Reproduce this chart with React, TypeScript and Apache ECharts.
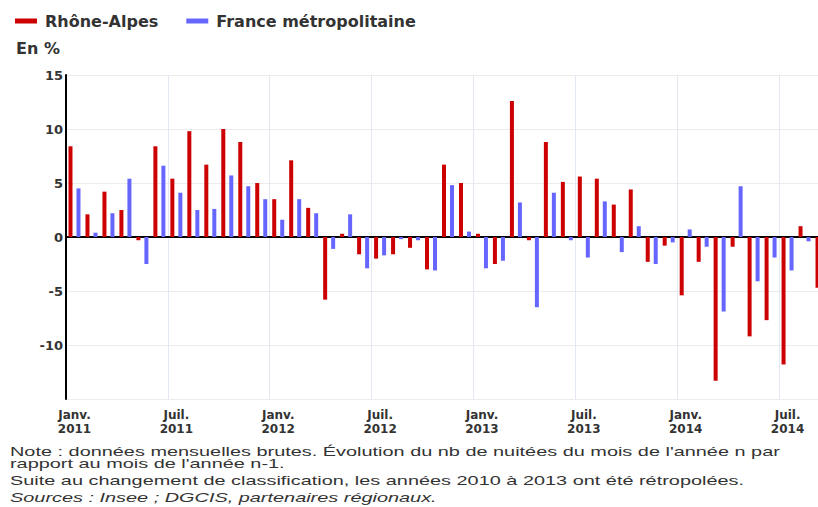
import React, { useEffect, useRef } from "react";
import * as echarts from "echarts";

const monthNames = ["Janv.", "Févr.", "Mars", "Avr.", "Mai", "Juin", "Juil.", "Août", "Sept.", "Oct.", "Nov.", "Déc."];
const years = [2011, 2012, 2013, 2014];
const categories: string[] = [];
years.forEach((y) => monthNames.forEach((m) => categories.push(`${m} ${y}`)));
const months = categories.slice(0, 45);

const rhoneAlpes = [
  8.4, 2.1, 4.2, 2.5, -0.3, 8.4, 5.4, 9.8, 6.7, 10.0, 8.8, 5.0,
  3.5, 7.1, 2.7, -5.8, 0.3, -1.6, -2.0, -1.6, -1.0, -3.0, 6.7, 5.0,
  0.3, -2.5, 12.6, -0.3, 8.8, 5.1, 5.6, 5.4, 3.0, 4.4, -2.3, -0.8,
  -5.4, -2.3, -13.3, -0.9, -9.2, -7.7, -11.8, 1.0, -4.7,
];
const franceMetro = [
  4.5, 0.4, 2.2, 5.4, -2.5, 6.6, 4.1, 2.5, 2.6, 5.7, 4.7, 3.5,
  1.6, 3.5, 2.2, -1.1, 2.1, -2.9, -1.7, -0.2, -0.3, -3.1, 4.8, 0.5,
  -2.9, -2.2, 3.2, -6.5, 4.1, -0.3, -1.9, 3.3, -1.4, 1.0, -2.5, -0.5,
  0.7, -0.9, -6.9, 4.7, -4.1, -1.9, -3.1, -0.4, null,
];

const seriesNames = ["Rhône-Alpes", "France métropolitaine"];
const unitLabel = "En %";
const notes = [
  "Note : données mensuelles brutes. Évolution du nb de nuitées du mois de l'année n par",
  "rapport au mois de l'année n-1.",
  "Suite au changement de classification, les années 2010 à 2013 ont été rétropolées.",
];
const sources = "Sources : Insee ; DGCIS, partenaires régionaux.";

export default function App() {
  const ref = useRef<HTMLDivElement>(null);
  useEffect(() => {
    if (!ref.current) return;
    const chart = echarts.init(ref.current, null, { renderer: "svg" });
    const axisFont = { fontFamily: "DejaVu Sans", fontWeight: "bold" as const, fontSize: 12, color: "#333" };
    chart.setOption({
      animation: false,
      backgroundColor: "#fff",
      title: {
        text: unitLabel,
        left: 11,
        top: 35,
        textStyle: { fontFamily: "DejaVu Sans", fontWeight: "bold", fontSize: 16, color: "#333" },
      },
      legend: {
        left: 10,
        top: 8,
        icon: "rect",
        itemWidth: 22,
        itemHeight: 5,
        itemGap: 28,
        textStyle: { fontFamily: "DejaVu Sans", fontWeight: "bold", fontSize: 16, color: "#333", padding: [0, 0, 0, 3] },
        data: seriesNames,
      },
      grid: {
        left: 66,
        top: 75,
        width: 764,
        height: 324,
        containLabel: false,
        outerBoundsMode: "none",
      },
      xAxis: {
        type: "category",
        data: months,
        axisLine: { show: true, lineStyle: { color: "#000", width: 2 } },
        axisTick: { show: false },
        axisLabel: {
          interval: 5,
          margin: 9,
          lineHeight: 14,
          ...axisFont,
          formatter: (v: string) => v.replace(" ", "\n"),
        },
        splitLine: { show: true, interval: 5, lineStyle: { color: "#e2e9f3", width: 1 } },
      },
      yAxis: {
        type: "value",
        min: -15,
        max: 15,
        interval: 5,
        axisLine: { show: true, lineStyle: { color: "#000", width: 2 } },
        axisTick: { show: false },
        axisLabel: {
          margin: 3,
          ...axisFont,
          fontSize: 13,
          formatter: (v: number) => (v === -15 ? "" : String(v)),
        },
        splitLine: { show: true, lineStyle: { color: "#ececec", width: 1 } },
      },
      series: [
        {
          name: seriesNames[0],
          type: "bar",
          data: rhoneAlpes,
          barWidth: 4,
          barGap: "100%",
          itemStyle: { color: "#cc0000" },
        },
        {
          name: seriesNames[1],
          type: "bar",
          data: franceMetro,
          barWidth: 4,
          itemStyle: { color: "#6666ff" },
        },
      ],
      graphic: [
        ...notes.map((t, i) => ({
          type: "text",
          x: 10,
          y: [452, 464, 481][i],
          scaleX: 1.53,
          style: { text: t, font: '13px "Liberation Sans"', fill: "#333", verticalAlign: "middle" },
        })),
        {
          type: "text",
          x: 10,
          y: 498,
          scaleX: 1.53,
          style: { text: sources, font: 'italic 13px "Liberation Sans"', fill: "#333", verticalAlign: "middle" },
        },
      ],
    });
    return () => chart.dispose();
  }, []);
  return <div ref={ref} style={{ position: "fixed", left: 0, top: 0, width: 818, height: 507 }} />;
}
